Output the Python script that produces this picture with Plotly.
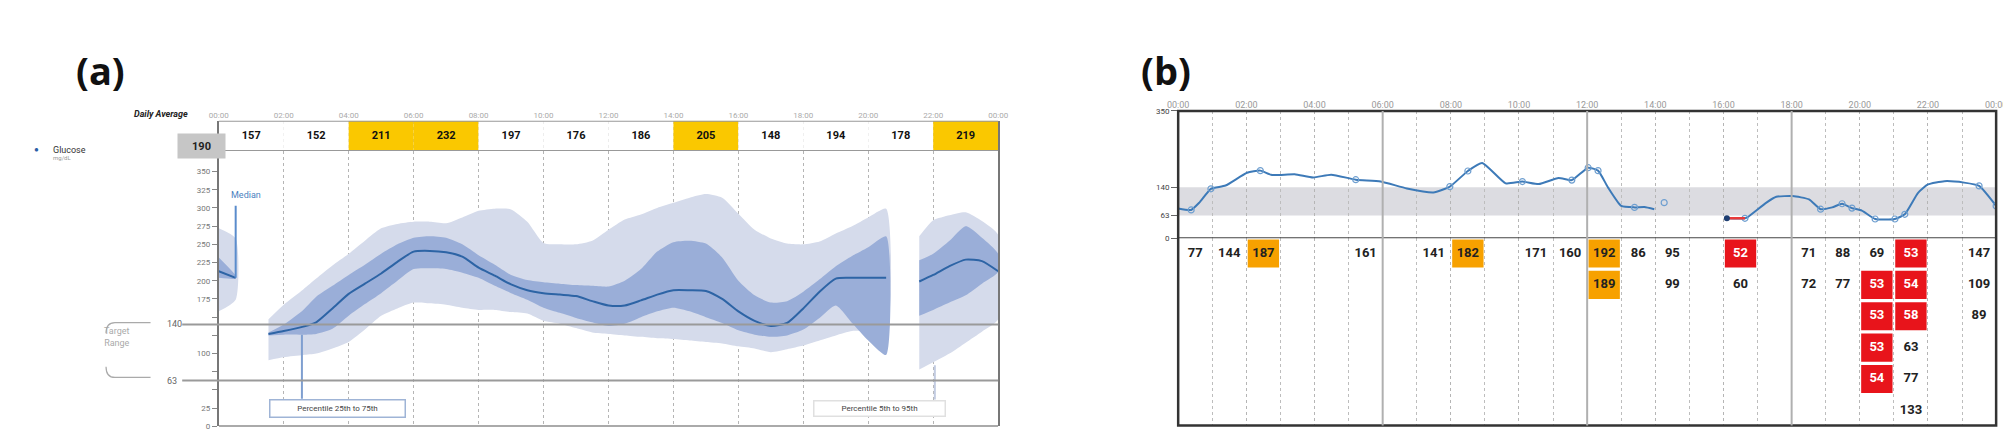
import plotly.graph_objects as go

W, H = 2011, 443

# ---------------- panel (a): ambulatory glucose profile ----------------
# None marks hours without data
agp_hours = [0, 0.52, None,
             1.53, 2.0, 2.6, 3.0, 3.5, 4.0, 4.5, 5.0, 5.5, 6.0, 6.5, 7.0, 7.5, 8.0, 8.5, 9.0, 9.5,
             10.0, 10.5, 11.0, 11.5, 12.0, 12.5, 13.0, 13.5, 14.0, 14.5, 15.0, 15.5, 16.0, 16.5,
             17.0, 17.5, 18.0, 18.5, 19.0, 19.5, 20.0, 20.55, None,
             21.57, 22.0, 22.5, 23.0, 23.5, 24.0]
p50 = [213, 204, None,
       127, 131, 137, 143, 162, 182, 196, 210, 226, 240, 241, 239, 233, 218, 207, 195, 187,
       183, 181, 179, 172, 166, 166, 173, 181, 187, 187, 186, 175, 158, 145,
       138, 142, 162, 185, 203, 204, 204, 204, None,
       199, 208, 220, 229, 227, 213]
p25 = [204, 203, None,
       125, 126, 126, 127, 134, 152, 168, 183, 200, 216, 217, 216, 211, 204, 193, 183, 174,
       163, 156, 149, 143, 138, 141, 150, 158, 163, 158, 150, 142, 132, 126,
       123, 125, 133, 149, 166, 142, 118, 98, None,
       152, 160, 170, 180, 196, 212]
p75 = [232, 207, None,
       129, 140, 160, 178, 193, 208, 222, 237, 250, 259, 261, 259, 250, 235, 222, 208, 201,
       198, 196, 194, 193, 192, 200, 216, 240, 253, 255, 251, 232, 200, 180,
       170, 172, 185, 202, 220, 234, 246, 261, None,
       228, 237, 255, 275, 259, 237]
p5 = [158, 174, None,
      91, 95, 98, 100, 107, 116, 133, 152, 162, 170, 169, 167, 163, 160, 160, 157, 155,
      145, 141, 135, 129, 127, 125, 123, 121, 120, 118, 116, 114, 110, 107,
      102, 106, 111, 118, 125, 131, 131, 130, None,
      78, 88, 100, 115, 130, 147]
p95 = [272, 258, None,
       147, 167, 188, 203, 221, 237, 255, 272, 278, 281, 281, 279, 287, 296, 299, 298, 281,
       252, 250, 250, 255, 270, 284, 291, 300, 307, 314, 319, 314, 292, 270,
       258, 251, 250, 254, 265, 275, 287, 299, None,
       261, 283, 290, 294, 282, 263]

avg_slots = [0, 2, 4, 6, 8, 10, 12, 14, 16, 18, 20, 22]
avg_values = [157, 152, 211, 232, 197, 176, 186, 205, 148, 194, 178, 219]
daily_average = 190
target_low, target_high = 63, 140
a_ticks = [0, 25, 50, 75, 100, 125, 150, 175, 200, 225, 250, 275, 300, 325, 350]
a_ticktext = ["0", "25", "", "", "100", "", "", "175", "200", "225", "250", "275", "300", "325", "350"]
time_labels = ["%02d:00" % (h % 24) for h in range(0, 25, 2)]

# ---------------- panel (b): daily CGM trace + readings table ----------------
hours_b = [0, 0.38, 0.62, 0.96, 1.39, 2.02, 2.41, 2.75, 3.42, 3.96, 4.49, 5.21, 5.94, 6.71, 7.49,
           7.97, 8.50, 8.92, 9.61, 10.10, 10.58, 11.16, 11.55, 12.03, 12.32, 12.61, 13.00, 13.39,
           13.68, 13.97, None, 14.26, None, 16.10, 16.63, 16.72, 17.26, 17.55, 18.03, 18.51, 18.85,
           19.19, 19.48, 19.77, 20.06, 20.45, 21.03, 21.32, 21.71, 22.00, 22.48, 23.06, 23.50, 24.00]
glucose_b = [82, 78, 98, 136, 145, 180, 186, 174, 176, 167, 175, 161, 156, 137, 126,
             142, 185, 207, 151, 156, 149, 166, 160, 194, 186, 140, 89, 85,
             86, 80, None, 98, None, 55, 55, 59, 98, 114, 116, 107, 80,
             85, 95, 83, 76, 53, 53, 66, 125, 148, 157, 153, 144, 89]
scan_hours = [0.38, 0.96, 2.41, 5.21, 7.97, 8.50, 10.10, 11.55, 12.03, 12.32, 13.39, 14.26,
              16.63, 18.85, 19.48, 19.77, 20.45, 21.03, 21.32, 23.50, 24.00]
alarm_hours = [16.10, 16.63]
alarm_values = [55, 55]
b_ticks = [0, 63, 140, 350]

table_hours = [0, 1, 2, 5, 7, 8, 10, 11, 12, 13, 14, 16, 18, 19, 20, 21, 23]
table_values = [[77], [144], [187], [161], [141], [182], [171], [160], [192, 189], [86], [95, 99],
                [52, 60], [71, 72], [88, 77], [69, 53, 53, 53, 54], [53, 54, 58, 63, 77, 133],
                [147, 109, 89]]
HIGH, LOW = 180, 60


def fx(px):
    return px / W


def fy(py):
    return 1 - py / H


def band(lo, hi):
    xs, ys, seg = [], [], []
    for i, h in enumerate(agp_hours + [None]):
        if h is None:
            if seg:
                xs += [agp_hours[j] for j in seg] + [agp_hours[j] for j in reversed(seg)] + [None]
                ys += [hi[j] for j in seg] + [lo[j] for j in reversed(seg)] + [None]
            seg = []
        else:
            seg.append(i)
    return xs, ys


fig = go.Figure()

# AGP bands
for lo, hi, col in [(p5, p95, "#d5dbeb"), (p25, p75, "#9aaed8")]:
    bx, by = band(lo, hi)
    fig.add_trace(go.Scatter(x=bx, y=by, fill="toself", fillcolor=col, mode="lines",
                             line=dict(width=0, shape="spline", smoothing=0.6),
                             xaxis="x", yaxis="y", hoverinfo="skip"))
fig.add_trace(go.Scatter(x=agp_hours, y=p50, mode="lines", connectgaps=False,
                         line=dict(color="#2d64a5", width=2, shape="spline", smoothing=0.6),
                         xaxis="x", yaxis="y"))

# daily average row
fig.add_trace(go.Bar(x=[s + 1 for s in avg_slots], y=[1] * len(avg_slots), base=0, width=2,
                     marker=dict(color=["#fac800" if v > 200 else "white" for v in avg_values],
                                 line_width=0),
                     xaxis="x", yaxis="y2"))
fig.add_trace(go.Scatter(x=[s + 1 for s in avg_slots], y=[0.5] * len(avg_slots), mode="text",
                         text=["<b>%d</b>" % v for v in avg_values],
                         textfont=dict(size=11, color="#111", family="Roboto"),
                         xaxis="x", yaxis="y2"))

# panel (b) trace
fig.add_trace(go.Scatter(x=hours_b, y=glucose_b, mode="lines", connectgaps=False,
                         line=dict(color="#3d7ab8", width=2, shape="spline", smoothing=0.5),
                         xaxis="x2", yaxis="y3"))
lookup = dict(zip(hours_b, glucose_b))
fig.add_trace(go.Scatter(x=scan_hours, y=[lookup[h] for h in scan_hours], mode="markers",
                         marker=dict(symbol="circle-open", size=6, color="#6f9fd0",
                                     line=dict(width=1.2)),
                         xaxis="x2", yaxis="y3"))
fig.add_trace(go.Scatter(x=alarm_hours, y=alarm_values, mode="lines",
                         line=dict(color="#e83a3a", width=2.5), xaxis="x2", yaxis="y3"))
fig.add_trace(go.Scatter(x=alarm_hours[:1], y=alarm_values[:1], mode="markers",
                         marker=dict(size=6, color="#1f3f73"), xaxis="x2", yaxis="y3"))

# panel (b) readings table
cx, cy, ct, cbox, ccol = [], [], [], [], []
for h, vals in zip(table_hours, table_values):
    for r, v in enumerate(vals, start=1):
        cx.append(h + 0.5)
        cy.append(r)
        ct.append("<b>%d</b>" % v)
        if v > HIGH:
            cbox.append("#f7a100")
            ccol.append("#222")
        elif v < LOW:
            cbox.append("#e8141b")
            ccol.append("white")
        else:
            cbox.append(None)
            ccol.append("#222")
flag = [i for i, c in enumerate(cbox) if c]
fig.add_trace(go.Bar(x=[cx[i] for i in flag], y=[0.9] * len(flag), base=[cy[i] - 0.45 for i in flag],
                     width=0.92, marker=dict(color=[cbox[i] for i in flag], line_width=0),
                     xaxis="x2", yaxis="y4"))
fig.add_trace(go.Scatter(x=cx, y=cy, mode="text", text=ct,
                         textfont=dict(size=13, color=ccol, family="Roboto"),
                         xaxis="x2", yaxis="y4"))

grid = dict(showgrid=True, gridcolor="#b5b5b5", griddash="dot", gridwidth=1)
fig.update_layout(
    width=W, height=H, margin=dict(l=0, r=0, t=0, b=0),
    paper_bgcolor="white", plot_bgcolor="rgba(0,0,0,0)",
    showlegend=False, barmode="overlay",
    font=dict(family="Roboto", color="#333"),
    xaxis=dict(domain=[fx(202), fx(990)], range=[0, 24], anchor="y2", side="top",
               tickvals=list(range(0, 25, 2)), ticktext=time_labels, ticks="",
               tickfont=dict(size=8, color="#aaa"), showline=False, zeroline=False, **grid),
    yaxis=dict(domain=[fy(423), fy(142)], range=[0, 378], anchor="x",
               tickvals=a_ticks, ticktext=a_ticktext, ticks="outside", ticklen=5,
               tickcolor="#888", tickfont=dict(size=8, color="#777"),
               showline=True, mirror=True, linecolor="#777", linewidth=2, showgrid=False,
               zeroline=True, zerolinecolor="#aaa", zerolinewidth=2),
    yaxis2=dict(domain=[fy(142), fy(111)], range=[0, 1], anchor="x", showticklabels=False,
                showgrid=False, zeroline=False, showline=True, mirror=True,
                linecolor="#777", linewidth=2),
    xaxis2=dict(domain=[fx(1172), fx(1999)], range=[0, 24], anchor="y3", side="top",
                tickvals=list(range(0, 25, 2)), ticktext=time_labels, ticks="",
                tickfont=dict(size=9, color="#999"), showline=False, zeroline=False,
                minor=dict(dtick=1, showgrid=True, gridcolor="#bdbdbd", griddash="dot"),
                **grid),
    yaxis3=dict(domain=[fy(231), fy(101)], range=[0, 350], anchor="x2",
                tickvals=b_ticks, ticktext=[str(t) for t in b_ticks], ticks="outside",
                ticklen=6, tickcolor="#666", tickfont=dict(size=8, color="#444"),
                showgrid=False, zeroline=False),
    yaxis4=dict(domain=[fy(422), fy(231)], range=[6.48, 0.516], anchor="x2",
                showticklabels=False, showgrid=False, zeroline=False),
)

shapes = [
    # table borders (a)
    dict(type="line", xref="x domain", yref="y2", x0=0, x1=1, y0=0, y1=0, line=dict(color="#999", width=2)),
    dict(type="line", xref="x domain", yref="y2", x0=0, x1=1, y0=1, y1=1, line=dict(color="#999", width=2)),
    # (b) target band, zero line, frame, 6-hour lines
    dict(type="rect", xref="x2 domain", yref="y3", x0=0, x1=1, y0=target_low, y1=target_high,
         fillcolor="#dcdce1", line_width=0, layer="below"),
    dict(type="line", xref="x2 domain", yref="y3", x0=0, x1=1, y0=0, y1=0, line=dict(color="#444", width=2)),
    dict(type="rect", xref="paper", yref="paper", x0=fx(1172), x1=fx(1999), y0=fy(422), y1=fy(101),
         line=dict(color="#333", width=2.5)),
    # median / percentile pointers
    dict(type="line", xref="x", yref="y", x0=0.52, x1=0.52, y0=204, y1=303, line=dict(color="#5a8ccc", width=2)),
    dict(type="line", xref="x", yref="y", x0=2.56, x1=2.56, y0=38, y1=126, line=dict(color="#7f9fd0", width=2)),
    dict(type="line", xref="x", yref="y", x0=22.05, x1=22.05, y0=37, y1=84, line=dict(color="#c3cce2", width=2)),
    # target range brace
    dict(type="path", xref="paper", yref="paper", line=dict(color="#aaa", width=1.2),
         path=f"M{fx(133)},{fy(317)} L{fx(97)},{fy(317)} Q{fx(88)},{fy(317)} {fx(88)},{fy(328)}"),
    dict(type="path", xref="paper", yref="paper", line=dict(color="#aaa", width=1.2),
         path=f"M{fx(88)},{fy(362)} Q{fx(88)},{fy(373)} {fx(97)},{fy(373)} L{fx(133)},{fy(373)}"),
]
for lvl in (target_high, target_low):
    shapes.append(dict(type="line", xref="paper", yref="y", x0=fx(165), x1=fx(990), y0=lvl, y1=lvl,
                       line=dict(color="#9a9a9a", width=2), layer="above"))
for h in (6, 12, 18):
    shapes.append(dict(type="line", xref="x2", yref="paper", x0=h, x1=h, y0=fy(422), y1=fy(101),
                       line=dict(color="#b0b0b0", width=2)))
fig.update_layout(shapes=shapes)

ann = [
    dict(text="<b>(a)</b>", x=fx(56), y=fy(31), font=dict(size=38, family="Open Sans", color="#111")),
    dict(text="<b>(b)</b>", x=fx(1160), y=fy(31), font=dict(size=38, family="Open Sans", color="#111")),
    dict(text="<b><i>Daily Average</i></b>", x=fx(114), y=fy(97), font=dict(size=9, color="#222")),
    dict(text="<b>%d</b>" % daily_average, x=fx(159.5), y=fy(123), width=45, height=22,
         bgcolor="#c6c6c6", font=dict(size=11, color="#222")),
    dict(text="●", x=fx(13), y=fy(134), font=dict(size=8, color="#2a5ea6")),
    dict(text="Glucose", x=fx(32), y=fy(134), xanchor="left", font=dict(size=9, color="#333")),
    dict(text="mg/dL", x=fx(32), y=fy(143), xanchor="left", font=dict(size=6, color="#999")),
    dict(text="Target<br>Range", x=fx(84), y=fy(345), font=dict(size=9, color="#aaa")),
    dict(text="Median", x=0.85, y=318, xref="x", yref="y", font=dict(size=9, color="#4a7fc0")),
    dict(text="Percentile 25th to 75th", x=3.66, y=24, xref="x", yref="y", width=132, height=14,
         bordercolor="#9fb4d6", borderwidth=1.5, bgcolor="white", font=dict(size=8, color="#444")),
    dict(text="Percentile 5th to 95th", x=20.35, y=24, xref="x", yref="y", width=128, height=12,
         bordercolor="#e0e0e0", borderwidth=1.5, bgcolor="white", font=dict(size=8, color="#444")),
]
for lvl in (target_high, target_low):
    ann.append(dict(text=str(lvl), x=fx(148), y=lvl, yref="y", font=dict(size=9, color="#666")))
for a in ann:
    a.setdefault("xref", "paper")
    a.setdefault("yref", "paper")
    a["showarrow"] = False
fig.update_layout(annotations=ann)

fig.write_html("out.html")
